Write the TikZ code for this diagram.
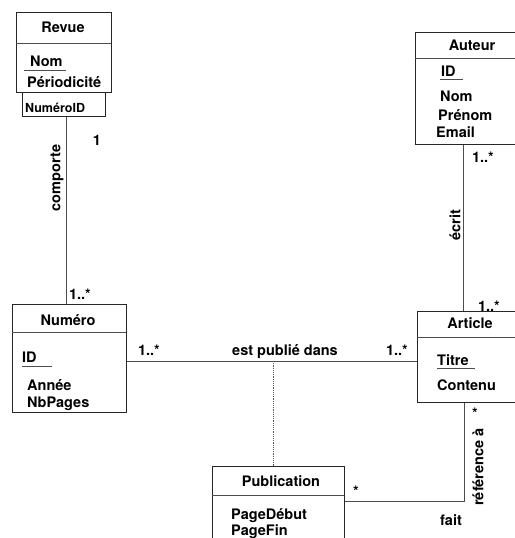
\documentclass[tikz,border=0pt]{standalone}
\usepackage{fontspec}
\setmainfont{TeX Gyre Heros}
\newcommand{\labfont}{\fontsize{14.5}{17}\selectfont\bfseries}
\newcommand{\smallfont}{\fontsize{12.5}{15}\selectfont\bfseries}
\begin{document}
\begin{tikzpicture}[x=1pt,y=-1pt,
  every node/.style={font=\labfont, inner sep=0pt},
  box/.style={draw=black!85, line width=0.9pt, anchor=north west, minimum width=#1},
  conn/.style={draw=black!70, line width=0.9pt},
  dotconn/.style={draw=black!65, line width=1pt, dash pattern=on 1.2pt off 1pt},
  sep/.style={draw=black!70, line width=0.9pt},
  lt/.style={anchor=base west},
  ct/.style={anchor=base},
  rot/.style={rotate=90, anchor=center}]
\useasboundingbox (0,0) rectangle (514,538);
% Revue
\node[box=95pt, minimum height=80pt] (revue) at (16,12) {};
\draw[sep] (16,43) -- (111,43);
\node[ct] (revuet) at (63,32) {Revue};
\node[lt] (revnom) at (30,66) {Nom};
\draw[sep] (24,70) -- (66,70);
\node[lt] (revper) at (27,87.5) {Périodicité};
\node[box=83pt, minimum height=24pt] (numid) at (22,92) {};
\node[lt, font=\smallfont] (numidt) at (25,112) {NuméroID};
% Numero
\node[box=114pt, minimum height=108pt] (numero) at (12,304) {};
\draw[sep] (12,332) -- (126,332);
\node[ct] (numerot) at (68,325) {Numéro};
\node[lt] (numid2) at (22,362) {ID};
\draw[sep] (22,366) -- (52,366);
\node[lt] (numan) at (27,390) {Année};
\node[lt] (numnb) at (27,407) {NbPages};
% Auteur
\node[box=114pt, minimum height=112pt] (auteur) at (415,32) {};
\draw[sep] (415,58) -- (529,58);
\node[ct] (auteurt) at (472,50) {Auteur};
\node[lt] (autid) at (441,76) {ID};
\draw[sep] (440,79) -- (463,79);
\node[lt] (autnom) at (440,101) {Nom};
\node[lt] (autpre) at (438,120) {Prénom};
\node[lt] (autem) at (436,137) {Email};
% Article
\node[box=106pt, minimum height=91pt] (article) at (417,311) {};
\draw[sep] (417,337) -- (523,337);
\node[ct] (articlet) at (470,328) {Article};
\node[lt] (arttit) at (437,365) {Titre};
\draw[sep] (437,368) -- (475,368);
\node[lt] (artcon) at (437,390) {Contenu};
% Publication
\node[box=132pt, minimum height=100pt] (pub) at (212,466) {};
\draw[sep] (212,495) -- (344,495);
\node[ct] (pubt) at (281,486) {Publication};
\node[lt] (pubpd) at (231,519) {PageDébut};
\node[lt] (pubpf) at (231,535) {PageFin};
% connectors
\draw[conn] ([xshift=2.5pt]numid.south) -- ([xshift=-3pt]numero.north);
\node[ct] (m1) at (97,145) {1};
\node[rot] (comporte) at (57,178) {comporte};
\node[ct] (m2) at (80,299) {1..*};

\coordinate (est) at (273,361);
\draw[conn] (numero.east |- est) -- (article.west |- est);
\draw[dotconn] (est) -- (est |- pub.north);
\node[ct] (m3) at (149,355) {1..*};
\node[ct] (estpub) at (285,355) {est publié dans};
\node[ct] (m4) at (397,355) {1..*};

\coordinate (ve) at (463,200);
\draw[conn] (ve |- auteur.south) -- (ve |- article.north);
\node[ct] (m5) at (483,162) {1..*};
\node[rot] (ecrit) at (455,225) {écrit};
\node[ct] (m6) at (489,311) {1..*};

\coordinate (corner) at (464,501);
\draw[conn] (corner |- article.south) -- (corner) -- (corner -| pub.east);
\node (m7) at (475,413) {*};
\node[rot] (refa) at (478,467) {référence à};
\node (m8) at (356,491) {*};
\node[ct] (fait) at (451,525) {fait};
\end{tikzpicture}
\end{document}
